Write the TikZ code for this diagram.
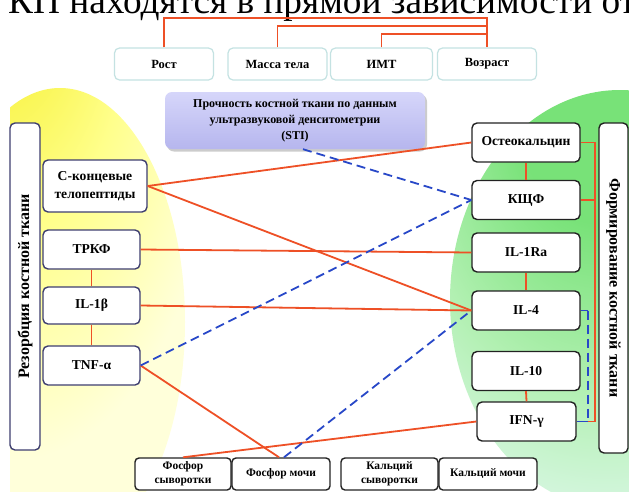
\documentclass[tikz,border=0pt]{standalone}
\usepackage{fontspec}
\setmainfont{Liberation Serif}
\usetikzlibrary{calc,shadows}
\definecolor{orl}{RGB}{238,80,38}
\definecolor{bll}{RGB}{40,72,200}
\definecolor{lbd}{RGB}{62,62,112}
\definecolor{rbd}{RGB}{34,34,34}
\definecolor{tbd}{RGB}{196,226,226}
\definecolor{pA}{RGB}{214,214,250}
\definecolor{pB}{RGB}{182,182,238}
\definecolor{yA}{RGB}{246,240,50}
\definecolor{yB}{RGB}{255,255,140}
\definecolor{yC}{RGB}{255,255,218}
\definecolor{gA}{RGB}{120,226,120}
\definecolor{gB}{RGB}{178,240,178}
\definecolor{gC}{RGB}{230,249,245}
\pgfdeclareradialshading{ylw}{\pgfpoint{-16bp}{47bp}}{color(0bp)=(yA); color(10bp)=(yA); color(26bp)=(yB); color(42bp)=(yC); color(100bp)=(yC)}
\pgfdeclareradialshading{grn}{\pgfpoint{-3bp}{24bp}}{color(0bp)=(gA); color(12bp)=(gA); color(28bp)=(gB); color(45bp)=(gC); color(100bp)=(gC)}
\tikzset{
  topbox/.style={draw=tbd, line width=1.2, rounded corners=5, fill=white, minimum width=99, minimum height=32, inner sep=1, font=\bfseries\fontsize{12.5}{14}\selectfont},
  lnode/.style={draw=lbd, line width=1.4, rounded corners=5, fill=white, inner sep=1, align=center, font=\bfseries\fontsize{13.6}{16}\selectfont},
  rnode/.style={draw=rbd, line width=1.4, rounded corners=5, fill=white, inner sep=1, align=center, minimum width=108, minimum height=39, font=\bfseries\fontsize{13.6}{16}\selectfont},
  bnode/.style={draw=rbd, line width=1.4, rounded corners=4, fill=white, inner sep=1, align=center, minimum height=32, font=\bfseries\fontsize{11.5}{14}\selectfont},
  panel/.style={line width=1.4, rounded corners=5, fill=white, inner sep=1, font=\bfseries\fontsize{16}{18}\selectfont},
  orline/.style={draw=orl, line width=1.8},
  bline/.style={draw=bll, line width=1.8, dash pattern=on 9pt off 5pt},
}
\begin{document}
\begin{tikzpicture}[x=1pt,y=-1pt]
\path[use as bounding box] (0,0) rectangle (629,491);
\clip (0,0) rectangle (629,491);
\fill[white] (0,0) rectangle (629,491);
% background glows
\begin{scope}
\clip (10,0) rectangle (629,491);
\shade[shading=ylw] (60,322) ellipse [x radius=125, y radius=234];
\end{scope}
\shade[shading=grn] (620,300) ellipse [x radius=170, y radius=210];
% title (cut at top)
\node[anchor=base west, inner sep=0, font=\fontsize{37.3}{40}\selectfont] (title) at (8,13) {КП находятся в прямой зависимости от};
% top boxes
\node[topbox] (rost) at (164,64) {Рост};
\node[topbox] (massa) at (277.5,64) {Масса тела};
\node[topbox, minimum width=102] (imt) at (381.5,64) {ИМТ};
\node[topbox] (vozr) at (487,64) {Возраст};
\coordinate (tr1) at (487,18);
\coordinate (tr2) at (487,26);
\coordinate (tr3) at (487,34);
% STI box
\node[top color=pA, bottom color=pB, rounded corners=7, drop shadow={shadow xshift=2pt, shadow yshift=-2.5pt, opacity=0.4}, minimum width=260, minimum height=57, inner sep=1, align=center, font=\bfseries\fontsize{12}{16}\selectfont] (sti) at (295,120.5) {Прочность костной ткани по данным\\ультразвуковой денситометрии\\(STI)};
% left panel and nodes
\node[panel, draw=lbd, rotate=90, minimum width=327, minimum height=30] (lpanel) at (25,286.5) {Резорбция костной ткани};
\node[lnode, minimum width=104, minimum height=52, font=\bfseries\fontsize{13.6}{18}\selectfont] (ctel) at (95,186) {С-концевые\\телопептиды};
\node[lnode, minimum width=97, minimum height=39] (trkf) at (91.5,249.5) {ТРКФ};
\node[lnode, minimum width=97, minimum height=37] (il1b) at (91.5,305.5) {IL-1β};
\node[lnode, minimum width=97, minimum height=39] (tnf) at (91.5,365.5) {TNF-α};
% right panel and nodes
\node[panel, draw=rbd, rotate=-90, minimum width=330, minimum height=29] (rpanel) at (613.5,288) {Формирование костной ткани};
\node[rnode] (osteo) at (526,142.5) {Остеокальцин};
\node[rnode] (kshf) at (526,200) {КЩФ};
\node[rnode] (il1ra) at (526,252.5) {IL-1Ra};
\node[rnode] (il4) at (526,310.5) {IL-4};
\node[rnode] (il10) at (526,371) {IL-10};
\node[rnode, minimum width=99] (ifn) at (526.5,421.5) {IFN-γ};
% bottom boxes
\node[bnode, minimum width=96] (fs) at (183,474) {Фосфор\\сыворотки};
\node[bnode, minimum width=98] (fm) at (281,474) {Фосфор мочи};
\node[bnode, minimum width=97] (ks) at (389.5,474) {Кальций\\сыворотки};
\node[bnode, minimum width=98] (km) at (488,474) {Кальций мочи};
% top bracket
\draw[orline] (rost.north) |- (tr1) -- (vozr.north);
\draw[orline] (massa.north) |- (tr2);
\draw[orline] (imt.north) |- (tr3);
% left verticals
\draw[orline] (trkf.south) -- (il1b.north);
\draw[orline] (il1b.south) -- (tnf.north);
% right verticals
\draw[orline] (osteo.south) -- (kshf.north);
\draw[orline] (il1ra.south) -- (il4.north);
\draw[orline] (il10.south) -- (ifn.north);
% right bracket
\coordinate (brx) at (595,0);
\coordinate (blx) at (588,0);
\draw[orline] (osteo.east) -- (osteo.east -| brx) -- (ifn.east -| brx) -- (ifn.east);
\draw[orline] (kshf.east) -- (kshf.east -| brx);
\draw[draw=bll, line width=1.8] (il4.east) -- (il4.east -| blx);
\draw[bline] (il4.east -| blx) -- (ifn.east -| blx);
\draw[draw=bll, line width=1.8] (ifn.east -| blx) -- (ifn.east);
% cross connectors
\draw[orline] (ctel.east) -- (osteo.west);
\draw[orline] (ctel.east) -- (il4.west);
\draw[orline] (trkf.east) -- (il1ra.west);
\draw[orline] (il1b.east) -- (il4.west);
\draw[orline] (tnf.east) -- ($(fm.north)+(-2,0)$);
\draw[orline] (ifn.west) -- (fs.north);
\draw[bline] ($(sti.south)+(8,0)$) -- (kshf.west);
\draw[bline] (tnf.east) -- (kshf.west);
\draw[bline] ($(fm.north)+(3,0)$) -- (il4.west);
\end{tikzpicture}
\end{document}
